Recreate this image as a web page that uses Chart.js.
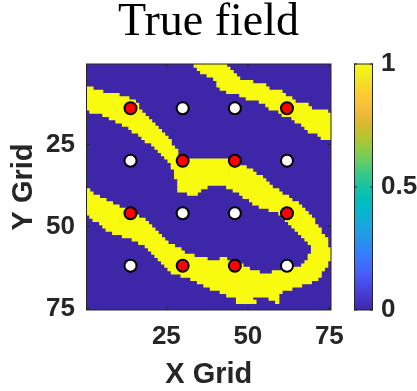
<!DOCTYPE html>
<html><head><meta charset="utf-8">
<script src="https://cdn.jsdelivr.net/npm/chart.js@4.4.0/dist/chart.umd.min.js"></script>
<style>
html,body{margin:0;padding:0;background:#fff;}
#wrap{position:relative;width:417px;height:391px;overflow:hidden;}
#main{position:absolute;left:0;top:0;}
#cbar{position:absolute;left:354px;top:0;}
</style></head><body>
<div id="wrap"><canvas id="main" width="417" height="391"></canvas><canvas id="cbar" width="63" height="391"></canvas></div>
<script>
// ---- data ----
const gridSize = 75;
// yellow (value 1) runs per row 1..75, as [firstColumn, lastColumn]
const yellowRuns = [
 [[34,43]], [[35,44]], [[36,45]], [[38,46]], [[40,47]],
 [[41,51]], [[41,55]], [[1,2],[42,56]], [[1,5],[44,60]], [[1,10],[48,61]],
 [[1,13],[50,63]], [[1,15],[54,64]], [[1,16],[56,68]], [[1,16],[57,69]], [[2,17],[60,74]],
 [[6,18],[61,75]], [[8,19],[64,75]], [[10,20],[65,75]], [[12,21],[67,75]], [[14,22],[68,75]],
 [[15,23],[69,75]], [[17,24],[72,75]], [[18,25],[73,75]], [[19,26]], [[21,26]],
 [[22,27]], [[23,28]], [[24,28]], [[25,29]], [[26,46]],
 [[27,47]], [[27,49]], [[28,51]], [[28,52]], [[28,54]],
 [[29,55]], [[29,56]], [[29,37],[44,57]], [[1,1],[29,35],[46,59]], [[1,2],[32,34],[48,60]],
 [[1,4],[49,62]], [[1,6],[51,63]], [[1,8],[52,65]], [[1,10],[54,66]], [[1,13],[57,67]],
 [[1,15],[60,68]], [[2,16],[61,69]], [[3,18],[62,70]], [[5,19],[63,70]], [[6,20],[64,71]],
 [[7,21],[65,72]], [[9,22],[66,72]], [[12,23],[67,73]], [[15,24],[68,74]], [[17,25],[69,74]],
 [[19,27],[70,74]], [[20,29],[70,75]], [[21,30],[70,75]], [[22,33],[69,75]], [[23,37],[42,43],[69,75]],
 [[24,45],[68,74]], [[25,48],[67,74]], [[26,50],[64,73]], [[27,53],[58,72]], [[30,72]],
 [[33,71]], [[35,69]], [[37,66]], [[39,63]], [[42,60]],
 [[44,59]], [[47,51],[57,59]], [[47,52],[59,59]], [], []
];
// sensor locations: red = on the channel, white = off the channel
const redX   = [14, 62, 30, 46, 14, 62, 30, 46];
const redY   = [14, 14, 30, 30, 46, 46, 62, 62];
const whiteX = [30, 46, 14, 62, 30, 46, 14, 62];
const whiteY = [14, 14, 30, 30, 46, 46, 62, 62];
const xTickValues = [25, 50, 75];
const yTickValues = [25, 50, 75];
const cbarTickValues = [0, 0.5, 1];
const cbarRange = [0, 1];

// ---- styles ----
const LOW = '#3E26A8', HIGH = '#F9FB0E', AXC = '#262626';
const parula = [
 [0.00,'rgb(62,38,168)'],[0.05,'rgb(69,55,201)'],[0.10,'rgb(71,74,230)'],[0.15,'rgb(71,95,249)'],
 [0.20,'rgb(61,115,254)'],[0.25,'rgb(45,135,247)'],[0.30,'rgb(37,152,231)'],[0.35,'rgb(22,169,220)'],
 [0.40,'rgb(7,182,205)'],[0.45,'rgb(0,190,186)'],[0.50,'rgb(22,195,164)'],[0.55,'rgb(52,201,140)'],
 [0.60,'rgb(97,204,104)'],[0.65,'rgb(140,203,72)'],[0.70,'rgb(179,197,49)'],[0.75,'rgb(212,187,41)'],
 [0.80,'rgb(240,185,57)'],[0.85,'rgb(254,195,55)'],[0.90,'rgb(247,212,43)'],[0.95,'rgb(242,233,30)'],
 [1.00,'rgb(249,251,14)']
];
const tickFont = {family:'Liberation Sans', size:26, weight:'bold'};
const labelFont = {family:'Liberation Sans', size:29, weight:'bold', lineHeight:1};

// ---- build datasets ----
const maxRuns = Math.max(...yellowRuns.map(r => r.length));
const barSets = [];
for (let k = 0; k < maxRuns; k++) {
  const data = [];
  yellowRuns.forEach((runs, i) => {
    if (runs[k]) data.push({y: i + 1, x: [runs[k][0] - 0.5, runs[k][1] + 0.5]});
  });
  barSets.push({type:'bar', data, backgroundColor: HIGH, borderWidth: 0, grouped: false,
    barPercentage: 1, categoryPercentage: 1, inflateAmount: 0.5, order: 2, indexAxis: 'y'});
}
const pointSet = (xs, ys, color) => ({type:'scatter', data: xs.map((x, i) => ({x, y: ys[i]})),
  backgroundColor: color, borderColor: '#000', borderWidth: 2, pointRadius: 6, pointHoverRadius: 6, order: 0});

const framePlugin = {
  id: 'frame',
  beforeDatasetsDraw(chart) {
    const {ctx, chartArea: a} = chart;
    ctx.save(); ctx.fillStyle = LOW; ctx.fillRect(a.left, a.top, a.right - a.left, a.bottom - a.top); ctx.restore();
  },
  afterDraw(chart) {
    const {ctx, chartArea: a, scales} = chart;
    ctx.save(); ctx.strokeStyle = AXC; ctx.lineWidth = 1;
    ctx.strokeRect(a.left, a.top, a.right - a.left, a.bottom - a.top);
    ctx.beginPath();
    xTickValues.forEach(v => { const p = scales.x.getPixelForValue(v);
      ctx.moveTo(p, a.bottom); ctx.lineTo(p, a.bottom - 3); ctx.moveTo(p, a.top); ctx.lineTo(p, a.top + 3); });
    yTickValues.forEach(v => { const p = scales.y.getPixelForValue(v);
      ctx.moveTo(a.left, p); ctx.lineTo(a.left + 3, p); ctx.moveTo(a.right, p); ctx.lineTo(a.right - 3, p); });
    ctx.stroke(); ctx.restore();
  }
};

new Chart(document.getElementById('main'), {
  data: { datasets: [pointSet(redX, redY, '#FF0000'), pointSet(whiteX, whiteY, '#FFFFFF'), ...barSets] },
  options: {
    responsive: false, animation: false, indexAxis: 'y',
    layout: {padding: 0},
    plugins: {
      legend: {display: false}, tooltip: {enabled: false},
      title: {display: true, text: 'True field', color: '#000',
        font: {family: 'Liberation Serif', size: 46, weight: 'normal', lineHeight: 1},
        padding: {top: 0, bottom: 18}}
    },
    scales: {
      x: {type: 'linear', position: 'bottom', min: 0.5, max: gridSize + 0.5, offset: false,
        afterBuildTicks: s => { s.ticks = xTickValues.map(v => ({value: v})); },
        grid: {display: false, drawTicks: false}, border: {display: false},
        ticks: {font: tickFont, color: AXC, padding: 11, maxRotation: 0, autoSkip: false},
        title: {display: true, text: 'X Grid', color: AXC, font: labelFont, padding: {top: 0, bottom: 1.5}},
        afterFit: s => { s.height = 81; }},
      y: {type: 'linear', position: 'left', reverse: true, min: 0.5, max: gridSize + 0.5, offset: false,
        afterBuildTicks: s => { s.ticks = yTickValues.map(v => ({value: v})); },
        grid: {display: false, drawTicks: false}, border: {display: false},
        ticks: {font: tickFont, color: AXC, padding: 11.5, autoSkip: false},
        title: {display: true, text: 'Y Grid', color: AXC, font: labelFont, padding: {top: 9, bottom: 0}},
        afterFit: s => { s.width = 86.5; }},
      ySpace: {type: 'linear', position: 'right', display: true, offset: false,
        grid: {display: false, drawTicks: false}, border: {display: false},
        ticks: {display: false},
        afterFit: s => { s.width = 86; }}
    }
  },
  plugins: [framePlugin]
});

// ---- colour bar ----
const cbarPlugin = {
  id: 'cbarFrame',
  afterDraw(chart) {
    const {ctx, chartArea: a, scales} = chart;
    ctx.save(); ctx.strokeStyle = AXC; ctx.lineWidth = 1;
    ctx.strokeRect(a.left + 0.5, a.top, a.right - a.left - 1, a.bottom - a.top);
    ctx.beginPath();
    cbarTickValues.forEach(v => { const p = scales.y.getPixelForValue(v);
      ctx.moveTo(a.right, p); ctx.lineTo(a.right - 3, p); ctx.moveTo(a.left, p); ctx.lineTo(a.left + 3, p); });
    ctx.stroke(); ctx.restore();
  }
};
new Chart(document.getElementById('cbar'), {
  type: 'bar',
  data: { labels: ['field'], datasets: [{ data: [cbarRange], borderWidth: 0, inflateAmount: 0,
    barPercentage: 1, categoryPercentage: 1,
    backgroundColor: c => { const ch = c.chart, a = ch.chartArea; if (!a) return LOW;
      const g = ch.ctx.createLinearGradient(0, a.bottom, 0, a.top);
      parula.forEach(([t, col]) => g.addColorStop(t, col)); return g; } }] },
  options: {
    responsive: false, animation: false,
    layout: {padding: {top: 64, bottom: 81, left: 0, right: 0}},
    plugins: {legend: {display: false}, tooltip: {enabled: false}},
    scales: {
      x: {display: false},
      y: {position: 'right', min: cbarRange[0], max: cbarRange[1],
        afterBuildTicks: s => { s.ticks = cbarTickValues.map(v => ({value: v})); },
        grid: {display: false, drawTicks: false}, border: {display: false},
        ticks: {font: tickFont, color: AXC, padding: 8, callback: v => String(v)},
        afterFit: s => { s.width = 44; }}
    }
  },
  plugins: [cbarPlugin]
});
</script>
</body></html>
